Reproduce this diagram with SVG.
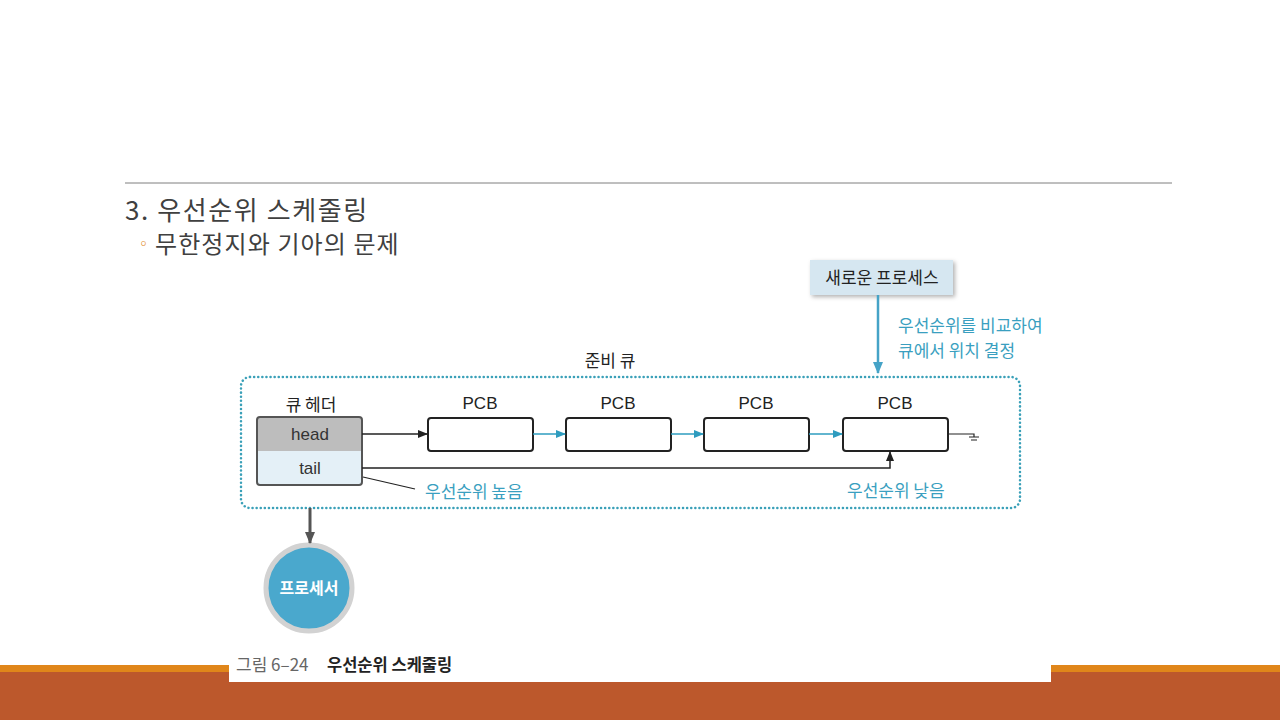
<svg xmlns="http://www.w3.org/2000/svg" width="1280" height="720" viewBox="0 0 1280 720">
<defs>
<style>
.k{font-family:"Noto Sans CJK KR","Noto Sans",sans-serif}
.s{font-family:"Liberation Sans","Noto Sans CJK KR",sans-serif}
.pcb{fill:#fff;stroke:#222;stroke-width:2}
.lbl{font-size:17px;fill:#222;text-anchor:middle}
.blue{fill:#3a9fc0;font-size:17px}
</style>
<marker id="ab" markerWidth="10" markerHeight="10" refX="9" refY="5" orient="auto" markerUnits="userSpaceOnUse"><path d="M0,1 L10,5 L0,9 z" fill="#222"/></marker>
<marker id="ac" markerWidth="10" markerHeight="10" refX="9" refY="5" orient="auto" markerUnits="userSpaceOnUse"><path d="M0,1 L10,5 L0,9 z" fill="#2e9cbf"/></marker>
<marker id="ag" markerWidth="12" markerHeight="12" refX="11" refY="6" orient="auto" markerUnits="userSpaceOnUse"><path d="M0,1 L12,6 L0,11 z" fill="#555"/></marker>
<marker id="al" markerWidth="12" markerHeight="12" refX="11" refY="6" orient="auto" markerUnits="userSpaceOnUse"><path d="M0,1 L12,6 L0,11 z" fill="#45a3c7"/></marker>
<filter id="sh" x="-10%" y="-20%" width="130%" height="150%"><feDropShadow dx="2" dy="2" stdDeviation="2" flood-color="#000" flood-opacity="0.3"/></filter>
</defs>
<rect width="1280" height="720" fill="#fff"/>
<g id="slide">
<line x1="125" y1="183" x2="1172" y2="183" stroke="#7f7f7f" stroke-width="1"/>
<text class="k" x="125" y="220" font-size="26" letter-spacing="1.6" fill="#404040">3. 우선순위 스케줄링</text>
<text class="k" x="136" y="249" font-size="15" fill="#E0861A">◦</text>
<text class="k" x="155" y="253" font-size="24" letter-spacing="1.1" fill="#404040">무한정지와 기아의 문제</text>
<rect x="0" y="665" width="1280" height="7" fill="#E0861A"/>
<rect x="0" y="672" width="1280" height="48" fill="#BC582C"/>
<rect x="229" y="650" width="822" height="32" fill="#fff"/>
</g>
<g id="readyqueue">
<rect x="241" y="377" width="779" height="131" rx="9" fill="none" stroke="#3aa0b8" stroke-width="2.5" stroke-dasharray="0.1 4" stroke-linecap="round"/>
<text class="k lbl" x="610" y="367">준비 큐</text>
</g>
<g id="newprocess">
<rect x="810" y="260" width="143" height="35" fill="#d6e7f1" filter="url(#sh)"/>
<text class="k lbl" x="882" y="284">새로운 프로세스</text>
</g>
<g id="queueheader">
<text class="k lbl" x="311" y="411">큐 헤더</text>
<rect x="257" y="417" width="105" height="34" fill="#bdbdbd"/>
<rect x="257" y="451" width="105" height="34" fill="#e4f0f7"/>
<rect x="257" y="417" width="105" height="68" rx="3" fill="none" stroke="#555" stroke-width="2"/>
<text class="s" x="310" y="440" font-size="17" fill="#333" text-anchor="middle">head</text>
<text class="s" x="310" y="474" font-size="17" fill="#333" text-anchor="middle">tail</text>
</g>
<g id="pcb1"><text class="s lbl" x="480" y="409">PCB</text><rect class="pcb" x="428" y="418" width="105" height="33" rx="3"/></g>
<g id="pcb2"><text class="s lbl" x="618" y="409">PCB</text><rect class="pcb" x="566" y="418" width="105" height="33" rx="3"/></g>
<g id="pcb3"><text class="s lbl" x="756" y="409">PCB</text><rect class="pcb" x="704" y="418" width="105" height="33" rx="3"/></g>
<g id="pcb4"><text class="s lbl" x="895" y="409">PCB</text><rect class="pcb" x="843" y="418" width="105" height="33" rx="3"/></g>
<g id="processor">
<circle cx="309" cy="588" r="43" fill="#4aa8cd" stroke="#d2d2d2" stroke-width="5"/>
<text class="k" x="309" y="594" font-size="16" font-weight="bold" fill="#fff" text-anchor="middle">프로세서</text>
</g>
<g id="connectors">
<line x1="878" y1="295" x2="878" y2="373" stroke="#45a3c7" stroke-width="2.5" marker-end="url(#al)"/>
<line x1="362" y1="434" x2="427" y2="434" stroke="#222" stroke-width="1.5" marker-end="url(#ab)"/>
<line x1="533" y1="434" x2="565" y2="434" stroke="#2e9cbf" stroke-width="1.5" marker-end="url(#ac)"/>
<line x1="671" y1="434" x2="703" y2="434" stroke="#2e9cbf" stroke-width="1.5" marker-end="url(#ac)"/>
<line x1="809" y1="434" x2="842" y2="434" stroke="#2e9cbf" stroke-width="1.5" marker-end="url(#ac)"/>
<polyline points="362,468 890,468 890,452" fill="none" stroke="#222" stroke-width="1.5" marker-end="url(#ab)"/>
<path d="M948,434 H974 V437 M969,437 H979 M971,440 H977" fill="none" stroke="#222" stroke-width="1.2"/>
<line x1="363" y1="477" x2="415" y2="489" stroke="#222" stroke-width="1.2"/>
<line x1="310" y1="508" x2="310" y2="543" stroke="#555" stroke-width="3" marker-end="url(#ag)"/>
</g>
<g id="labels">
<text class="k blue" x="898" y="332">우선순위를 비교하여</text>
<text class="k blue" x="898" y="357">큐에서 위치 결정</text>
<text class="k blue" x="425" y="498">우선순위 높음</text>
<text class="k blue" x="847" y="497">우선순위 낮음</text>
<text class="k" x="236" y="671" font-size="17" fill="#666">그림 6–24</text>
<text class="k" x="327" y="671" font-size="16.5" font-weight="bold" fill="#222">우선순위 스케줄링</text>
</g>
</svg>
